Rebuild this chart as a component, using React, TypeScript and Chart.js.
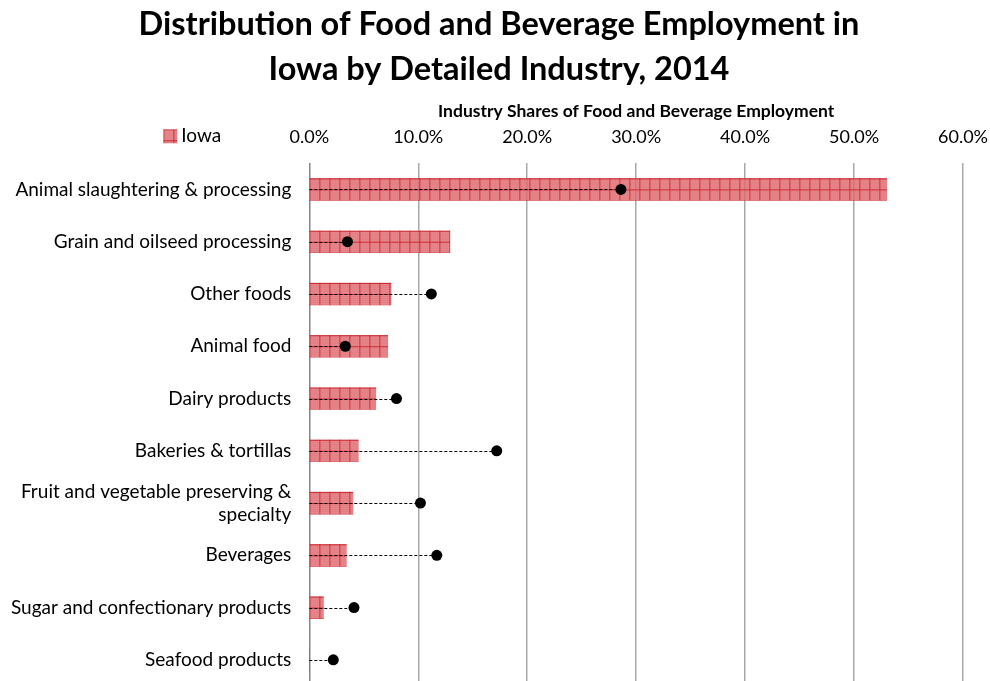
import React, { useEffect, useRef } from "react";
import { Chart, registerables } from "chart.js";

Chart.register(...registerables);

const categories: (string | string[])[] = [
  "Animal slaughtering & processing",
  "Grain and oilseed processing",
  "Other foods",
  "Animal food",
  "Dairy products",
  "Bakeries & tortillas",
  ["Fruit and vegetable preserving &", "specialty"],
  "Beverages",
  "Sugar and confectionary products",
  "Seafood products",
];
const iowaShares = [53.0, 12.9, 7.5, 7.2, 6.1, 4.5, 4.0, 3.4, 1.3, 0.0];
const usShares = [28.6, 3.5, 11.2, 3.3, 8.0, 17.2, 10.2, 11.7, 4.1, 2.2];
const xTicks = [0, 10, 20, 30, 40, 50, 60];
const titleLines = [
  "Distribution of Food and Beverage Employment in",
  "Iowa by Detailed Industry, 2014",
];
const axisTitle = "Industry Shares of Food and Beverage Employment";
const legendLabel = "Iowa";

const FONT = "Lato, 'Open Sans', sans-serif";

function makeTile(): HTMLCanvasElement {
  const c = document.createElement("canvas");
  c.width = 10;
  c.height = 11;
  const p = c.getContext("2d");
  if (!p) return c;
  p.fillStyle = "rgba(220,98,104,0.82)";
  p.fillRect(0, 0, 10, 11);
  p.fillStyle = "rgba(242,160,165,0.5)";
  for (let x = 1; x < 10; x += 2) for (let y = 1; y < 11; y += 2) p.fillRect(x, y, 1, 1);
  p.fillStyle = "rgba(200,30,40,0.85)";
  p.fillRect(0, 0, 10, 1);
  p.fillRect(0, 0, 1, 11);
  return c;
}

export default function App() {
  const ref = useRef<HTMLCanvasElement | null>(null);

  useEffect(() => {
    const canvas = ref.current;
    if (!canvas) return;
    const ctx = canvas.getContext("2d")!;
    const tile = makeTile();
    const basePattern = ctx.createPattern(tile, "repeat") || "#e06a70";

    const barFill = (c: any) => {
      const chart = c.chart;
      const ys = chart.scales && chart.scales.y;
      const xs = chart.scales && chart.scales.x;
      if (!ys || !xs || c.dataIndex == null) return basePattern;
      const top = ys.getPixelForValue(c.dataIndex) - 11;
      const left = xs.getPixelForValue(0);
      const pat = chart.ctx.createPattern(tile, "repeat");
      if (!pat) return basePattern;
      try {
        pat.setTransform(new DOMMatrix().translate(left, top));
      } catch (e) {}
      return pat;
    };

    const dashPlugin = {
      id: "dashLines",
      beforeDatasetDraw(chart: any, args: any) {
        if (args.index !== 1) return;
        const x = chart.scales.x;
        const y = chart.scales.y;
        const c = chart.ctx;
        c.save();
        c.strokeStyle = "#000";
        c.lineWidth = 1;
        c.setLineDash([3, 2]);
        usShares.forEach((v, i) => {
          const py = Math.round(y.getPixelForValue(i)) + 0.5;
          c.beginPath();
          c.moveTo(x.getPixelForValue(0), py);
          c.lineTo(x.getPixelForValue(v), py);
          c.stroke();
        });
        c.restore();
      },
    };

    const legendPlugin = {
      id: "customLegend",
      afterDraw(chart: any) {
        const c = chart.ctx;
        const area = chart.chartArea;
        const bx = area.left - 146;
        const by = area.top - 34;
        const pat = c.createPattern(tile, "repeat");
        c.save();
        c.fillStyle = pat || "#e06a70";
        c.translate(bx, by);
        c.fillRect(0, 0, 14, 14);
        c.restore();
        c.save();
        c.fillStyle = "#000";
        c.font = `19px ${FONT}`;
        c.textBaseline = "middle";
        c.textAlign = "left";
        c.fillText(legendLabel, bx + 18, by + 7);
        c.restore();
      },
    };

    const chart = new Chart(canvas, {
      type: "bar",
      data: {
        labels: categories as any,
        datasets: [
          {
            type: "bar",
            label: legendLabel,
            data: iowaShares,
            backgroundColor: barFill as any,
            borderWidth: 0,
            barThickness: 22,
            order: 2,
          },
          {
            type: "line",
            label: "US",
            data: usShares,
            indexAxis: "y",
            showLine: false,
            pointRadius: 5.5,
            pointBackgroundColor: "#000",
            pointBorderColor: "#000",
            pointBorderWidth: 0,
            order: 1,
          } as any,
        ],
      },
      options: {
        animation: false,
        responsive: true,
        maintainAspectRatio: false,
        indexAxis: "y",
        layout: { padding: { left: 8, right: 0, top: 0, bottom: 14 } },
        plugins: {
          legend: { display: false },
          tooltip: { enabled: false },
          title: {
            display: true,
            text: titleLines,
            color: "#000",
            font: { family: FONT, size: 32.5, weight: "bold", lineHeight: 1.38 },
            padding: { top: 2, bottom: 9 },
          },
        },
        scales: {
          x: {
            position: "top",
            min: 0,
            max: 60,
            afterBuildTicks: (s: any) => {
              s.ticks = xTicks.map((v) => ({ value: v }));
            },
            afterFit: (s: any) => {
              s.paddingLeft = 0;
              s.paddingRight = 27;
              s.paddingTop = 0;
              s.paddingBottom = 0;
            },
            ticks: {
              callback: (v: any) => Number(v).toFixed(1) + "%",
              color: "#000",
              font: { family: FONT, size: 18 },
              padding: 15,
            },
            grid: {
              color: (c: any) => (c.tick && c.tick.value === 0 ? "#868686" : "#a8a8a8"),
              lineWidth: 1.5,
              drawTicks: false,
            },
            border: { display: false },
            title: {
              display: true,
              text: axisTitle,
              color: "#000",
              font: { family: FONT, size: 17.5, weight: "bold" },
              padding: { top: 0, bottom: -10 },
            },
          },
          y: {
            afterFit: (s: any) => {
              s.paddingLeft = 0;
              s.paddingRight = 0;
              s.paddingTop = 0;
              s.paddingBottom = 0;
              s.width = s.width - 7;
            },
            grid: { display: false },
            border: { display: false },
            ticks: {
              color: "#000",
              font: { family: FONT, size: 19 },
              padding: 10,
            },
          },
        },
      },
      plugins: [dashPlugin, legendPlugin],
    });

    return () => chart.destroy();
  }, []);

  return (
    <div style={{ position: "absolute", left: 0, top: 0, width: 990, height: 700 }}>
      <canvas ref={ref} />
    </div>
  );
}
